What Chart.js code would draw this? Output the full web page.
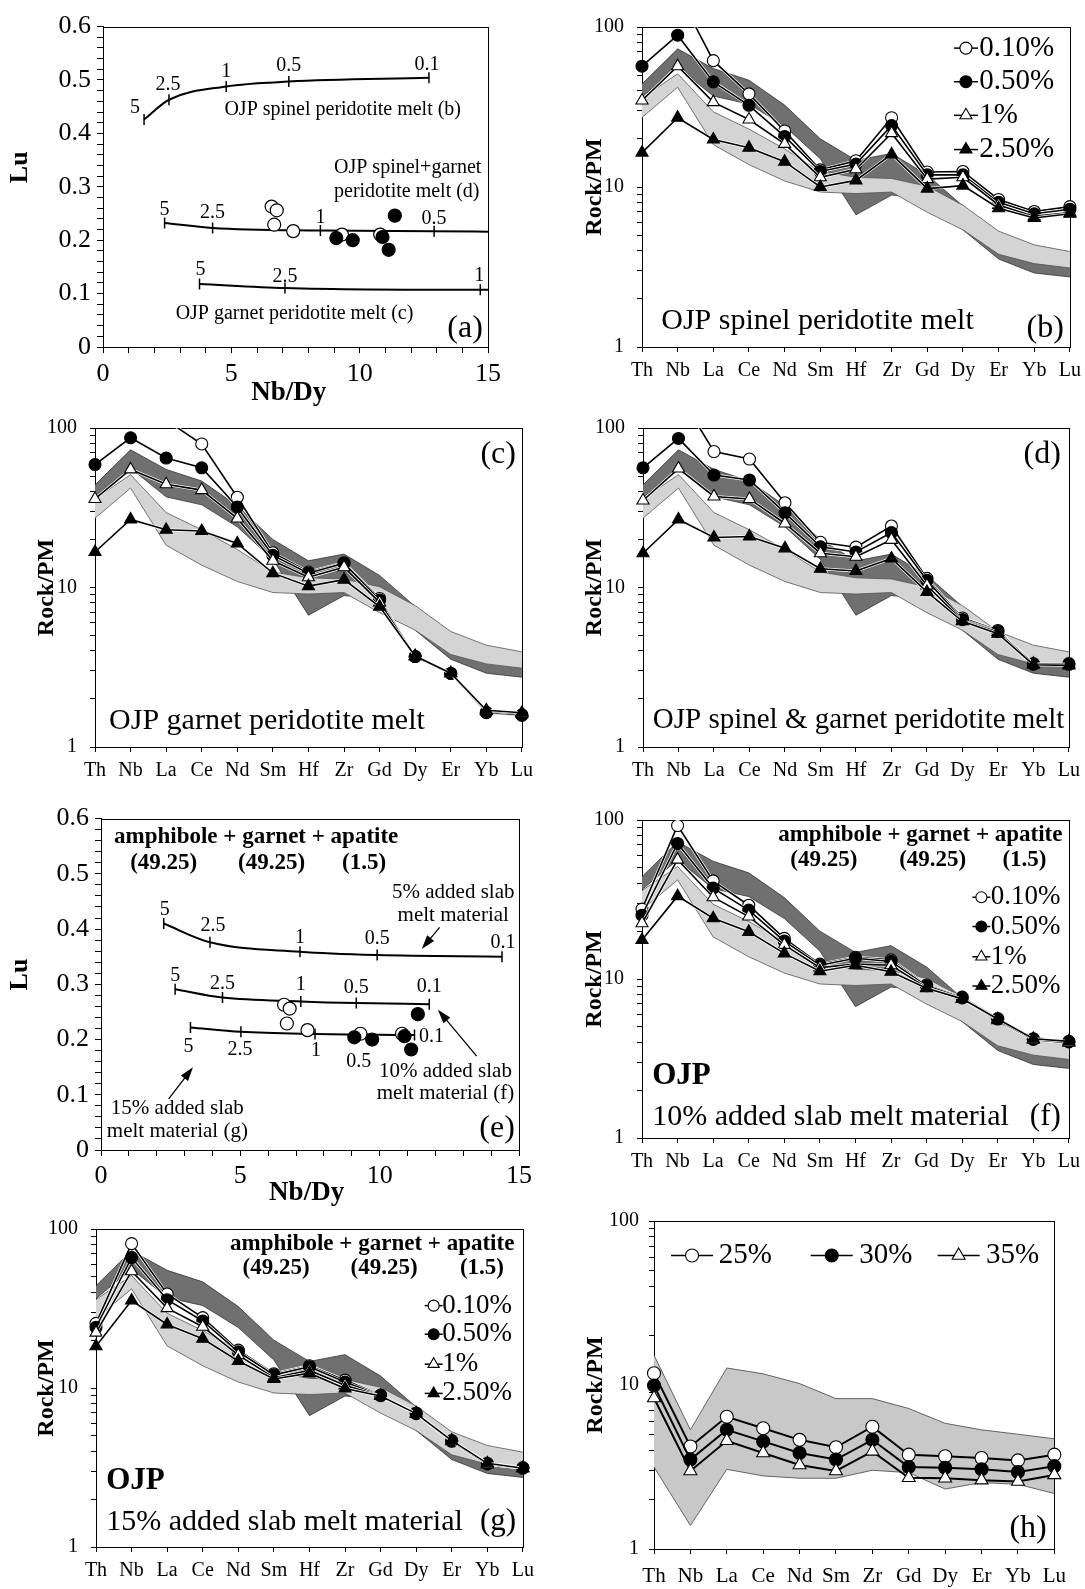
<!DOCTYPE html>
<html>
<head>
<meta charset="utf-8">
<script src="https://cdn.jsdelivr.net/npm/chart.js@4/dist/chart.umd.min.js"></script>
<style>
  html, body { margin: 0; padding: 0; background: #fff; }
  #page { position: relative; width: 1085px; height: 1589px; overflow: hidden; background: #fff; }
  #page canvas { position: absolute; }
</style>
</head>
<body>
<div id="page"></div>
<script>
// ---------- data ----------
const elems13 = ['Th', 'Nb', 'La', 'Ce', 'Nd', 'Sm', 'Hf', 'Zr', 'Gd', 'Dy', 'Er', 'Yb', 'Lu'];
const elems12 = ['Th', 'Nb', 'La', 'Ce', 'Nd', 'Sm', 'Zr', 'Gd', 'Dy', 'Er', 'Yb', 'Lu'];
const meltLabels = ['0.10%', '0.50%', '1%', '2.50%'];
const slabLabels = ['25%', '30%', '35%'];

// grey fields behind panels b, c, d, f, g
const darkFieldHi  = [44, 73, 55, 46.5, 32.5, 20, 14.7, 16.2, 11.9, 7.6, 4.5, 3.6, 3.4];
const darkFieldLo  = [36.5, 56, 37, 33, 24, 15, 6.7, 8.9, 8.5, 5.4, 3.55, 2.9, 2.74];
const lightFieldHi = [36, 51, 29.5, 23, 17.3, 12.5, 11.5, 11.3, 10.1, 7.7, 5.3, 4.35, 3.95];
const lightFieldLo = [27.2, 42, 18.4, 13.8, 10.9, 9.3, 9.1, 9.3, 6.95, 5.4, 3.8, 3.32, 3.12];

// (b) OJP spinel peridotite melt
const spinel01 = [130, 165, 61.6, 38.2, 22.4, 12.8, 14.6, 27.1, 12.4, 12.5, 8.36, 7.03, 7.54];
const spinel05 = [56.9, 88.9, 45.4, 32.4, 20.7, 12.5, 13.9, 24.2, 11.9, 11.9, 8.02, 6.8, 7.26];
const spinel1  = [34.7, 56.9, 33.9, 26.4, 18.6, 11.5, 12.9, 21.7, 11.2, 11.5, 7.72, 6.55, 6.93];
const spinel25 = [16.4, 27.1, 19.8, 17.6, 14.4, 10.0, 11.0, 16.0, 9.77, 10.2, 7.37, 6.4, 6.8];

// (c) OJP garnet peridotite melt
const garnet01 = [130, 165, 112, 79.4, 36.8, 16.5, 12.5, 14.3, 8.54, 3.69, 2.89, 1.64, 1.58];
const garnet05 = [59, 86.8, 64.8, 56.3, 32, 15.9, 12.3, 14.2, 8.34, 3.69, 2.89, 1.65, 1.59];
const garnet1  = [35.9, 55, 44.4, 40.8, 27.1, 14.7, 11.6, 13.4, 8.07, 3.7, 2.9, 1.68, 1.62];
const garnet25 = [16.7, 26.7, 23, 22.6, 18.9, 12.3, 10.2, 11.2, 7.59, 3.72, 2.9, 1.70, 1.64];

// (d) OJP spinel & garnet peridotite melt
const spgt01 = [130, 165, 71.2, 63.9, 34, 19.2, 17.9, 24.3, 11.4, 6.44, 5.38, 3.33, 3.33];
const spgt05 = [56.3, 86, 50.7, 47.2, 29.4, 18, 16.7, 22.1, 11.1, 6.29, 5.3, 3.3, 3.3];
const spgt1  = [35.1, 55.7, 37.2, 35.9, 25.2, 16.4, 15.6, 19.9, 10.3, 6.2, 5.27, 3.33, 3.3];
const spgt25 = [16.4, 26.7, 20.6, 20.9, 17.6, 13.1, 12.7, 15.2, 9.38, 6.14, 5.13, 3.28, 3.25];

// (f) 10% added slab melt
const slab10p01 = [27.5, 92.3, 41.4, 29.1, 18, 12.4, 13.7, 13.2, 9.16, 7.69, 5.64, 4.21, 4.05];
const slab10p05 = [25.2, 71.2, 37.3, 27.1, 17.3, 12.2, 13.5, 12.9, 9.06, 7.6, 5.6, 4.17, 4.02];
const slab10p1  = [22.4, 56.3, 32.7, 24.7, 16.4, 11.8, 12.4, 12.2, 8.83, 7.5, 5.51, 4.15, 3.98];
const slab10p25 = [17.6, 33.2, 24.1, 19.8, 14.5, 11.2, 12.2, 11.1, 8.75, 7.5, 5.6, 4.21, 4.05];

// (g) 15% added slab melt
const slab15p01 = [25.5, 80.9, 39, 27.7, 17.3, 12.3, 13.8, 11.2, 9.03, 6.97, 4.67, 3.36, 3.16];
const slab15p05 = [24.1, 66.1, 35.9, 26.4, 16.9, 12.1, 13.6, 10.9, 8.95, 6.9, 4.62, 3.33, 3.13];
const slab15p1  = [22.3, 54.2, 31.8, 24.3, 16.1, 11.6, 12.9, 10.4, 8.9, 6.9, 4.62, 3.31, 3.13];
const slab15p25 = [18.3, 35.5, 25.1, 20.4, 14.8, 11.4, 12.4, 9.93, 8.9, 6.9, 4.67, 3.36, 3.13];

// (h)
const hFieldHi = [15.2, 5.33, 12.7, 11.7, 10.2, 8.26, 8.26, 7.19, 5.84, 5.33, 5.01, 4.7];
const hFieldLo = [3.16, 1.39, 3.06, 2.79, 2.7, 2.7, 3.02, 2.92, 2.32, 2.54, 2.48, 2.18];
const h25 = [11.8, 4.22, 6.4, 5.45, 4.63, 4.17, 5.57, 3.76, 3.68, 3.59, 3.47, 3.76];
const h30 = [9.93, 3.51, 5.33, 4.53, 3.85, 3.51, 4.63, 3.16, 3.13, 3.06, 2.95, 3.2];
const h35 = [8.33, 2.99, 4.57, 3.85, 3.25, 2.99, 3.94, 2.72, 2.7, 2.63, 2.58, 2.83];

// (a) melting curves, Nb/Dy vs Lu, with % melting at the ticks
const spCurveNbDy = [1.6, 2.57, 4.8, 7.24, 12.7];
const spCurveLu   = [0.426, 0.463, 0.488, 0.497, 0.504];
const spCurveF    = ['5', '2.5', '1', '0.5', '0.1'];
const sgCurveNbDy = [2.4, 4.27, 8.47, 12.9, 15];
const sgCurveLu   = [0.232, 0.223, 0.218, 0.2167, 0.216];
const sgCurveF    = ['5', '2.5', '1', '0.5', ''];
const gtCurveNbDy = [3.76, 7.09, 14.7, 15];
const gtCurveLu   = [0.118, 0.1105, 0.107, 0.107];
const gtCurveF    = ['5', '2.5', '1', ''];

// (e) slab-melt curves
const s5NbDy  = [2.25, 3.91, 7.14, 9.91, 14.39];
const s5Lu    = [0.410, 0.376, 0.359, 0.353, 0.350];
const s10NbDy = [2.66, 4.36, 7.17, 9.16, 11.78];
const s10Lu   = [0.291, 0.276, 0.269, 0.266, 0.264];
const s15NbDy = [3.21, 5.02, 7.68, 9.32, 11.25];
const s15Lu   = [0.222, 0.214, 0.210, 0.209, 0.208];
const slabF   = ['5', '2.5', '1', '0.5', '0.1'];

// OJP samples
const ojpOpenNbDy = [6.57, 6.77, 6.67, 7.41, 9.31, 10.8];
const ojpOpenLu   = [0.263, 0.256, 0.229, 0.217, 0.2105, 0.2105];
const ojpFillNbDy = [9.09, 9.73, 10.89, 11.37, 11.13];
const ojpFillLu   = [0.204, 0.200, 0.206, 0.246, 0.182];

// axis tick positions
const logTicks = [1, 2, 3, 4, 5, 6, 7, 8, 9, 10, 20, 30, 40, 50, 60, 70, 80, 90, 100];
const nbdyTicks = Array.from({length: 16}, (_, i) => i);
const luTicks = Array.from({length: 31}, (_, i) => i / 50);

// ---------- styling ----------
const FONT = '"Liberation Serif", "Times New Roman", Times, serif';
Chart.defaults.font.family = FONT;
Chart.defaults.color = '#000';
const DARK = 'rgb(112,112,112)';
const LIGHT = 'rgb(212,212,212)';
const H_FIELD = 'rgb(200,200,200)';

const meltStyles = [
    {label: meltLabels[0], shape: 'circle', fill: '#fff'},
    {label: meltLabels[1], shape: 'circle', fill: '#000'},
    {label: meltLabels[2], shape: 'triangle', fill: '#fff'},
    {label: meltLabels[3], shape: 'triangle', fill: '#000'},
];
const slabStyles = [
    {label: slabLabels[0], shape: 'circle', fill: '#fff'},
    {label: slabLabels[1], shape: 'circle', fill: '#000'},
    {label: slabLabels[2], shape: 'triangle', fill: '#fff'},
];

// plot-area boxes of each panel on the page
const G = {
    a: {l: 103, t: 23, r: 491, b: 347, axisLeft: 5, xh: 62},
    b: {l: 642, t: 20, r: 1072, b: 347, axisLeft: 580, xh: 40},
    c: {l: 95, t: 421, r: 524, b: 747, axisLeft: 32, xh: 40},
    d: {l: 643, t: 421, r: 1071, b: 747, axisLeft: 580, xh: 40},
    e: {l: 101, t: 815, r: 521, b: 1150, axisLeft: 5, xh: 59},
    f: {l: 642, t: 813, r: 1071, b: 1138, axisLeft: 580, xh: 40},
    g: {l: 96, t: 1222, r: 525, b: 1547, axisLeft: 32, xh: 40},
    h: {l: 654, t: 1217, r: 1060, b: 1549, axisLeft: 581, xh: 40},
};

const pts = (xs, ys) => xs.map((x, i) => ({x: x, y: ys[i]}));

function makeCanvas(id, g) {
    const pad = {left: 2, top: 18, right: 16, bottom: 2};
    const x = g.axisLeft - pad.left, y = g.t - pad.top;
    const w = g.r + pad.right - x, h = g.b + g.xh + pad.bottom - y;
    const c = document.createElement('canvas');
    c.id = id;
    c.width = w;
    c.height = h;
    c.style.left = x + 'px';
    c.style.top = y + 'px';
    c.style.width = w + 'px';
    c.style.height = h + 'px';
    document.getElementById('page').appendChild(c);
    return {canvas: c, pad: pad};
}

function drawMark(ctx, shape, fill, x, y, r) {
    ctx.beginPath();
    if (shape === 'triangle') {
        ctx.moveTo(x, y - r);
        ctx.lineTo(x + r * 0.866, y + r * 0.5);
        ctx.lineTo(x - r * 0.866, y + r * 0.5);
        ctx.closePath();
    } else {
        ctx.arc(x, y, r, 0, Math.PI * 2);
    }
    ctx.fillStyle = fill;
    ctx.fill();
    ctx.lineWidth = 1.1;
    ctx.strokeStyle = '#000';
    ctx.stroke();
}

// frame, white halos, curve tick labels, arrows, legend and notes
function deco(cfg) {
    return {
        id: 'deco',
        beforeDatasetsDraw(chart) {
            const a = chart.chartArea, ctx = chart.ctx;
            const L = Math.round(a.left), T = Math.round(a.top);
            ctx.save();
            ctx.strokeStyle = '#000';
            ctx.lineWidth = 1;
            ctx.strokeRect(L + 0.5, T + 0.5, Math.round(a.right) - L, Math.round(a.bottom) - T);
            ctx.restore();
        },
        beforeDatasetDraw(chart, args) {
            const ds = chart.data.datasets[args.index];
            if (!ds.halo) return;
            const a = chart.chartArea, ctx = chart.ctx, el = args.meta.data;
            ctx.save();
            ctx.beginPath();
            ctx.rect(a.left, a.top, a.right - a.left, a.bottom - a.top);
            ctx.clip();
            ctx.strokeStyle = '#fff';
            ctx.lineWidth = ds.borderWidth + 1.4;
            ctx.lineJoin = 'round';
            ctx.beginPath();
            el.forEach((p, i) => i ? ctx.lineTo(p.x, p.y) : ctx.moveTo(p.x, p.y));
            ctx.stroke();
            ctx.restore();
        },
        afterDatasetsDraw(chart) {
            const ctx = chart.ctx;
            ctx.save();
            ctx.font = '20px ' + FONT;
            ctx.fillStyle = '#000';
            ctx.textAlign = 'center';
            ctx.textBaseline = 'middle';
            chart.data.datasets.forEach((ds, i) => {
                if (!ds.tickLabels) return;
                const el = chart.getDatasetMeta(i).data;
                ds.tickLabels.forEach((t, j) => {
                    if (!t) return;
                    const s = (ds.labelShift && ds.labelShift[j]) || [0, -14];
                    ctx.fillText(t, el[j].x + s[0], el[j].y + s[1]);
                });
            });
            ctx.restore();
        },
        afterDraw(chart) {
            const ctx = chart.ctx, a = chart.chartArea;
            const sx = chart.scales.x, sy = chart.scales.y;
            const X = p => p.fx !== undefined ? a.left + p.fx * (a.right - a.left) : sx.getPixelForValue(p.x);
            const Y = p => p.fy !== undefined ? a.top + p.fy * (a.bottom - a.top) : sy.getPixelForValue(p.y);
            ctx.save();
            (cfg.arrows || []).forEach(ar => {
                const x1 = sx.getPixelForValue(ar.x1), y1 = sy.getPixelForValue(ar.y1);
                const x2 = sx.getPixelForValue(ar.x2), y2 = sy.getPixelForValue(ar.y2);
                const ang = Math.atan2(y2 - y1, x2 - x1), len = 14, hw = 4.5;
                const c = Math.cos(ang), s = Math.sin(ang);
                ctx.strokeStyle = '#000';
                ctx.lineWidth = 1.3;
                ctx.beginPath();
                ctx.moveTo(x1, y1);
                ctx.lineTo(x2 - c * len * 0.8, y2 - s * len * 0.8);
                ctx.stroke();
                ctx.beginPath();
                ctx.moveTo(x2, y2);
                ctx.lineTo(x2 - c * len - s * hw, y2 - s * len + c * hw);
                ctx.lineTo(x2 - c * len + s * hw, y2 - s * len - c * hw);
                ctx.closePath();
                ctx.fillStyle = '#000';
                ctx.fill();
            });
            const lg = cfg.legend;
            if (lg) {
                lg.items.forEach((it, k) => {
                    const st = lg.styles[k];
                    const cx = a.left + it.fx * (a.right - a.left);
                    const cy = a.top + it.fy * (a.bottom - a.top);
                    ctx.strokeStyle = '#000';
                    ctx.lineWidth = 1.5;
                    ctx.beginPath();
                    ctx.moveTo(cx - lg.half, cy);
                    ctx.lineTo(cx + lg.half, cy);
                    ctx.stroke();
                    drawMark(ctx, st.shape, st.fill, cx, cy, st.shape === 'triangle' ? lg.r + 1 : lg.r);
                    ctx.font = lg.size + 'px ' + FONT;
                    ctx.fillStyle = '#000';
                    ctx.textAlign = 'left';
                    ctx.textBaseline = 'middle';
                    ctx.fillText(st.label, a.left + it.tfx * (a.right - a.left), cy);
                });
            }
            (cfg.texts || []).forEach(t => {
                ctx.font = (t.bold ? 'bold ' : '') + t.size + 'px ' + FONT;
                ctx.textAlign = t.align || 'left';
                ctx.textBaseline = 'middle';
                ctx.fillStyle = '#000';
                ctx.fillText(t.text, X(t), Y(t));
            });
            ctx.restore();
        }
    };
}

function spiderChart(id, g, cats, series, styles, fields, cfg) {
    const made = makeCanvas(id, g);
    const r = cfg.markR || 6;
    // later series sit on top (the 2.50% triangles cover the others where they meet)
    const datasets = series.map((vals, i) => ({
        label: styles[i].label,
        data: vals,
        order: -i,
        fill: false,
        tension: 0,
        halo: cfg.halo !== false,
        borderColor: '#000',
        borderWidth: cfg.lineW || 1.6,
        pointStyle: styles[i].shape,
        pointRadius: styles[i].shape === 'triangle' ? r + 1 : r,
        pointBackgroundColor: styles[i].fill,
        pointBorderColor: '#000',
        pointBorderWidth: 1.1,
        clip: {left: 14, right: 14, top: 0, bottom: 0},
    }));
    fields.forEach((f, k) => {
        datasets.push({data: f.hi, order: k + 1, borderColor: f.edge, borderWidth: 0.8, pointRadius: 0, fill: false});
        datasets.push({data: f.lo, order: k + 1, borderColor: f.edge, borderWidth: 0.8, pointRadius: 0,
            fill: '-1', backgroundColor: f.color});
    });

    new Chart(made.canvas, {
        type: 'line',
        data: {labels: cats, datasets: datasets},
        options: {
            responsive: false,
            animation: false,
            devicePixelRatio: 1,
            layout: {padding: made.pad},
            plugins: {legend: {display: false}, tooltip: {enabled: false}},
            scales: {
                x: {
                    type: 'category',
                    offset: false,
                    grid: {display: true, drawOnChartArea: false, drawTicks: true, tickLength: 5, color: '#000', offset: false},
                    border: {display: true, color: '#000', width: 1},
                    ticks: {font: {size: cfg.catFont || 20}, padding: cfg.catPad || 7, autoSkip: false, maxRotation: 0},
                    afterFit: s => { s.height = g.xh; },
                },
                y: {
                    type: 'logarithmic',
                    min: 1,
                    max: 100,
                    grid: {display: true, drawOnChartArea: false, tickLength: 5, color: '#000'},
                    border: {display: true, color: '#000', width: 1},
                    ticks: {
                        font: {size: 20},
                        padding: cfg.yPad || 13,
                        autoSkip: false,
                        callback: v => (v === 1 || v === 10 || v === 100) ? String(v) : '',
                    },
                    afterBuildTicks: s => { s.ticks = logTicks.map(v => ({value: v})); },
                    title: {display: true, text: 'Rock/PM', font: {size: 24, weight: 'bold'}, padding: 0},
                    afterFit: s => { s.width = g.l - g.axisLeft; },
                },
            },
        },
        plugins: [deco(cfg)],
    });
}

function ratioChart(id, g, curves, cfg) {
    const made = makeCanvas(id, g);
    const datasets = curves.map(cv => ({
        data: pts(cv.x, cv.y),
        showLine: true,
        order: 2,
        borderColor: '#000',
        borderWidth: 2,
        fill: false,
        cubicInterpolationMode: 'monotone',
        pointStyle: 'line',
        pointRotation: 90,
        pointRadius: cv.f.map(t => t ? 5.5 : 0),
        pointBorderWidth: 1.5,
        pointBorderColor: '#000',
        pointBackgroundColor: '#000',
        tickLabels: cv.f,
        labelShift: cv.shift,
    }));
    datasets.push({data: pts(ojpOpenNbDy, ojpOpenLu), order: 1, showLine: false, pointStyle: 'circle',
        pointRadius: 6.5, pointBackgroundColor: '#fff', pointBorderColor: '#000', pointBorderWidth: 1.2});
    datasets.push({data: pts(ojpFillNbDy, ojpFillLu), order: 0, showLine: false, pointStyle: 'circle',
        pointRadius: 6.5, pointBackgroundColor: '#000', pointBorderColor: '#000', pointBorderWidth: 1.2});

    new Chart(made.canvas, {
        type: 'scatter',
        data: {datasets: datasets},
        options: {
            responsive: false,
            animation: false,
            devicePixelRatio: 1,
            layout: {padding: made.pad},
            plugins: {legend: {display: false}, tooltip: {enabled: false}},
            scales: {
                x: {
                    type: 'linear', min: 0, max: 15,
                    afterBuildTicks: s => { s.ticks = nbdyTicks.map(v => ({value: v})); },
                    afterFit: s => { s.height = g.xh; },
                    grid: {drawOnChartArea: false, tickLength: 6, color: '#000'},
                    border: {color: '#000', width: 1},
                    ticks: {font: {size: 26}, padding: cfg.xPad, autoSkip: false, maxRotation: 0,
                        callback: v => v % 5 === 0 ? String(v) : ''},
                    // trailing spaces nudge the centred title left, as in the figure
                    title: {display: true, text: 'Nb/Dy' + cfg.xTitlePad, font: {size: 27, weight: 'bold'}, padding: 0},
                },
                y: {
                    type: 'linear', min: 0, max: 0.6,
                    afterBuildTicks: s => { s.ticks = luTicks.map(v => ({value: v})); },
                    afterFit: s => { s.width = g.l - g.axisLeft; },
                    grid: {drawOnChartArea: false, tickLength: 6, color: '#000'},
                    border: {color: '#000', width: 1},
                    ticks: {font: {size: 26}, padding: 6, autoSkip: false,
                        callback: (v, i) => i % 5 === 0 ? (v === 0 ? '0' : v.toFixed(1)) : ''},
                    // leading spaces lift the rotated title above the axis centre
                    title: {display: true, text: cfg.yTitlePad + 'Lu', font: {size: 26, weight: 'bold'}, padding: 0},
                },
            },
        },
        plugins: [deco(cfg)],
    });
}

// ---------- panels ----------
const ojpFields = [
    {hi: lightFieldHi, lo: lightFieldLo, color: LIGHT, edge: '#555'},
    {hi: darkFieldHi, lo: darkFieldLo, color: DARK, edge: '#333'},
];
const mineralNotes = (fy1, fy2, xr, c1, c2, c3) => [
    {text: 'amphibole + garnet + apatite', fx: xr, fy: fy1, size: 23, bold: true, align: 'right'},
    {text: '(49.25)', fx: c1, fy: fy2, size: 23, bold: true, align: 'center'},
    {text: '(49.25)', fx: c2, fy: fy2, size: 23, bold: true, align: 'center'},
    {text: '(1.5)', fx: c3, fy: fy2, size: 23, bold: true, align: 'center'},
];

ratioChart('panelA', G.a, [
    {x: spCurveNbDy, y: spCurveLu, f: spCurveF, shift: [[-9, -12], [-1, -15], [0, -15], [0, -16], [-2, -13]]},
    {x: sgCurveNbDy, y: sgCurveLu, f: sgCurveF, shift: [[0, -13], [0, -15], [0, -13], [0, -13]]},
    {x: gtCurveNbDy, y: gtCurveLu, f: gtCurveF, shift: [[1, -14], [0, -11], [-1, -14]]},
], {
    xPad: 6, xTitlePad: '  ', yTitlePad: '      ',
    texts: [
        {text: 'OJP spinel peridotite melt (b)', x: 4.73, y: 0.444, size: 20},
        {text: 'OJP spinel+garnet', x: 9.0, y: 0.335, size: 20},
        {text: 'peridotite melt (d)', x: 9.0, y: 0.291, size: 20},
        {text: 'OJP garnet peridotite melt (c)', x: 2.83, y: 0.063, size: 20},
        {text: '(a)', x: 14.8, y: 0.035, size: 32, align: 'right'},
    ],
});

spiderChart('panelB', G.b, elems13, [spinel01, spinel05, spinel1, spinel25], meltStyles, ojpFields, {
    legend: {styles: meltStyles, half: 12, r: 6, size: 29, items: [
        {fx: 0.757, fy: 0.066, tfx: 0.788}, {fx: 0.757, fy: 0.171, tfx: 0.788},
        {fx: 0.757, fy: 0.276, tfx: 0.788}, {fx: 0.757, fy: 0.383, tfx: 0.788}]},
    texts: [
        {text: 'OJP spinel peridotite melt', fx: 0.045, fy: 0.918, size: 30},
        {text: '(b)', fx: 0.986, fy: 0.944, size: 32, align: 'right'},
    ],
});

spiderChart('panelC', G.c, elems13, [garnet01, garnet05, garnet1, garnet25], meltStyles, ojpFields, {
    texts: [
        {text: '(c)', fx: 0.986, fy: 0.084, size: 32, align: 'right'},
        {text: 'OJP garnet peridotite melt', fx: 0.033, fy: 0.918, size: 30},
    ],
});

spiderChart('panelD', G.d, elems13, [spgt01, spgt05, spgt1, spgt25], meltStyles, ojpFields, {
    texts: [
        {text: '(d)', fx: 0.981, fy: 0.084, size: 32, align: 'right'},
        {text: 'OJP spinel & garnet peridotite melt', fx: 0.023, fy: 0.918, size: 29},
    ],
});

ratioChart('panelE', G.e, [
    {x: s5NbDy, y: s5Lu, f: slabF, shift: [[1, -14], [3, -17], [0, -14], [0, -16], [1, -14]]},
    {x: s10NbDy, y: s10Lu, f: slabF, shift: [[0, -14], [0, -14], [0, -17], [0, -15], [0, -17]]},
    {x: s15NbDy, y: s15Lu, f: slabF, shift: [[-2, 19], [-1, 18], [1, 17], [-2, 27], [17, 2]]},
], {
    xPad: 5, xTitlePad: ' ', yTitlePad: '   ',
    arrows: [
        {x1: 12.15, y1: 0.403, x2: 11.51, y2: 0.364},
        {x1: 13.48, y1: 0.170, x2: 12.09, y2: 0.254},
        {x1: 2.43, y1: 0.0925, x2: 3.30, y2: 0.150},
    ],
    texts: [
        {text: 'amphibole + garnet + apatite', x: 0.467, y: 0.567, size: 23, bold: true},
        {text: '(49.25)', x: 2.25, y: 0.519, size: 23, bold: true, align: 'center'},
        {text: '(49.25)', x: 6.12, y: 0.519, size: 23, bold: true, align: 'center'},
        {text: '(1.5)', x: 9.44, y: 0.519, size: 23, bold: true, align: 'center'},
        {text: '5% added slab', x: 12.64, y: 0.466, size: 21, align: 'center'},
        {text: 'melt material', x: 12.64, y: 0.425, size: 21, align: 'center'},
        {text: '10% added slab', x: 12.36, y: 0.1415, size: 21, align: 'center'},
        {text: 'melt material (f)', x: 12.36, y: 0.1015, size: 21, align: 'center'},
        {text: '15% added slab', x: 2.74, y: 0.0746, size: 21, align: 'center'},
        {text: 'melt material (g)', x: 2.74, y: 0.0328, size: 21, align: 'center'},
        {text: '(e)', x: 14.85, y: 0.0388, size: 32, align: 'right'},
    ],
});

spiderChart('panelF', G.f, elems13, [slab10p01, slab10p05, slab10p1, slab10p25], meltStyles, ojpFields, {
    legend: {styles: meltStyles, half: 9, r: 5.5, size: 27, items: [
        {fx: 0.795, fy: 0.243, tfx: 0.817}, {fx: 0.795, fy: 0.335, tfx: 0.817},
        {fx: 0.795, fy: 0.430, tfx: 0.817}, {fx: 0.795, fy: 0.522, tfx: 0.817}]},
    texts: mineralNotes(0.048, 0.125, 0.985, 0.426, 0.681, 0.896).concat([
        {text: 'OJP', fx: 0.024, fy: 0.806, size: 31, bold: true},
        {text: '10% added slab melt material', fx: 0.024, fy: 0.933, size: 30},
        {text: '(f)', fx: 0.981, fy: 0.933, size: 31, align: 'right'},
    ]),
});

spiderChart('panelG', G.g, elems13, [slab15p01, slab15p05, slab15p1, slab15p25], meltStyles, ojpFields, {
    legend: {styles: meltStyles, half: 9, r: 5.5, size: 27, items: [
        {fx: 0.791, fy: 0.241, tfx: 0.811}, {fx: 0.791, fy: 0.331, tfx: 0.811},
        {fx: 0.791, fy: 0.425, tfx: 0.811}, {fx: 0.791, fy: 0.517, tfx: 0.811}]},
    texts: mineralNotes(0.046, 0.123, 0.980, 0.422, 0.675, 0.904).concat([
        {text: 'OJP', fx: 0.024, fy: 0.793, size: 31, bold: true},
        {text: '15% added slab melt material', fx: 0.024, fy: 0.921, size: 30},
        {text: '(g)', fx: 0.984, fy: 0.921, size: 31, align: 'right'},
    ]),
});

spiderChart('panelH', G.h, elems12, [h25, h30, h35], slabStyles,
    [{hi: hFieldHi, lo: hFieldLo, color: H_FIELD, edge: '#444'}], {
    markR: 6.5, lineW: 2, catFont: 21, catPad: 10, yPad: 10, halo: false,
    legend: {styles: slabStyles, half: 21, r: 6.5, size: 29, items: [
        {fx: 0.095, fy: 0.105, tfx: 0.162}, {fx: 0.444, fy: 0.105, tfx: 0.513},
        {fx: 0.761, fy: 0.105, tfx: 0.829}]},
    texts: [
        {text: '(h)', fx: 0.981, fy: 0.938, size: 32, align: 'right'},
    ],
});
</script>
</body>
</html>
